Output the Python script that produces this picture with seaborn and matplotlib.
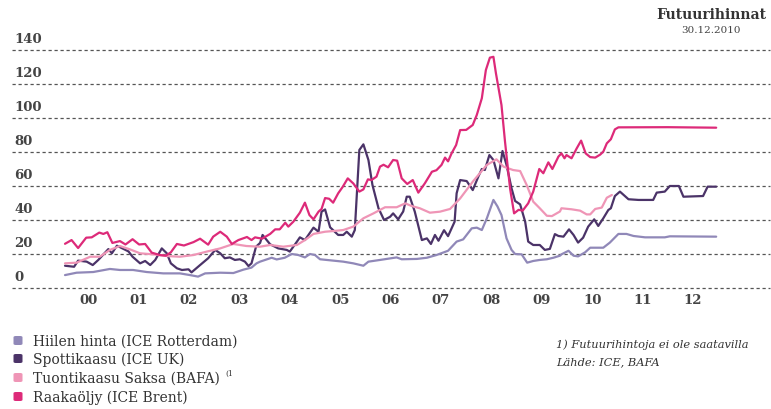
import numpy as np
import pandas as pd
import matplotlib
matplotlib.use("Agg")
import matplotlib.pyplot as plt
import matplotlib.transforms as mtransforms
from matplotlib.patches import FancyBboxPatch
import seaborn as sns

# ---------------- data ----------------
series_names = ["Hiilen hinta (ICE Rotterdam)", "Spottikaasu (ICE UK)",
                "Tuontikaasu Saksa (BAFA)", "Raakaöljy (ICE Brent)"]
series_colors = ["#9088B8", "#4B3368", "#EF95B6", "#DD2A79"]
year_labels = ["00", "01", "02", "03", "04", "05", "06", "07", "08", "09", "10", "11", "12"]
y_ticks = [0, 20, 40, 60, 80, 100, 120, 140]

coal_t = [2000.04, 2000.27, 2000.60, 2000.93, 2001.13, 2001.39, 2001.66, 2001.99, 2002.32, 2002.52,
          2002.68, 2002.82, 2003.12, 2003.38, 2003.58, 2003.74, 2003.84, 2003.91, 2004.14, 2004.24,
          2004.40, 2004.54, 2004.67, 2004.80, 2004.90, 2005.00, 2005.10, 2005.56, 2005.76, 2005.96,
          2006.06, 2006.29, 2006.62, 2006.72, 2007.02, 2007.22, 2007.41, 2007.64, 2007.81, 2007.94,
          2008.11, 2008.21, 2008.31, 2008.41, 2008.54, 2008.62, 2008.70, 2008.80, 2008.90, 2008.97,
          2009.10, 2009.21, 2009.33, 2009.46, 2009.60, 2009.73, 2009.86, 2009.89, 2010.03, 2010.13,
          2010.22, 2010.36, 2010.46, 2010.72, 2010.85, 2011.02, 2011.18, 2011.32, 2011.55, 2011.94,
          2012.04, 2012.96]
coal_v = [7.6, 9.0, 9.4, 11.2, 10.6, 10.6, 9.4, 8.6, 8.6, 7.6,
          6.7, 8.6, 9.0, 8.8, 10.8, 12.0, 14.5, 15.5, 17.8, 16.8,
          17.8, 20.0, 19.4, 18.0, 20.0, 19.4, 16.9, 15.5, 14.5, 13.1,
          15.5, 16.5, 18.0, 16.9, 17.1, 17.8, 19.4, 21.9, 27.3, 28.6,
          35.1, 35.5, 34.1, 41.0, 51.8, 48.0, 42.9, 29.2, 22.4, 20.0,
          19.8, 14.9, 15.9, 16.5, 16.9, 17.8, 19.0, 19.8, 21.9, 19.0,
          18.6, 21.0, 23.7, 23.7, 26.7, 31.8, 31.8, 30.6, 29.8, 29.8,
          30.4, 30.2]

spot_t = [2000.04, 2000.22, 2000.30, 2000.47, 2000.59, 2000.70, 2000.90, 2000.97, 2001.07, 2001.30,
          2001.38, 2001.53, 2001.63, 2001.73, 2001.83, 2001.96, 2002.06, 2002.14, 2002.26, 2002.36,
          2002.49, 2002.55, 2002.72, 2002.88, 2003.02, 2003.12, 2003.21, 2003.31, 2003.41, 2003.51,
          2003.61, 2003.68, 2003.74, 2003.83, 2003.91, 2003.96, 2004.11, 2004.27, 2004.44, 2004.50,
          2004.64, 2004.70, 2004.80, 2004.97, 2005.07, 2005.13, 2005.20, 2005.30, 2005.46, 2005.56,
          2005.63, 2005.73, 2005.79, 2005.88, 2005.96, 2006.06, 2006.14, 2006.26, 2006.37, 2006.49,
          2006.55, 2006.65, 2006.75, 2006.82, 2006.88, 2006.98, 2007.12, 2007.22, 2007.30, 2007.38,
          2007.45, 2007.56, 2007.64, 2007.77, 2007.81, 2007.88, 2008.01, 2008.13, 2008.24, 2008.31,
          2008.37, 2008.46, 2008.54, 2008.64, 2008.72, 2008.80, 2008.90, 2008.97, 2009.07, 2009.17,
          2009.23, 2009.33, 2009.46, 2009.56, 2009.66, 2009.76, 2009.83, 2009.93, 2010.04, 2010.13,
          2010.22, 2010.32, 2010.42, 2010.54, 2010.62, 2010.72, 2010.82, 2010.87, 2010.95, 2011.05,
          2011.22, 2011.42, 2011.71, 2011.78, 2011.94, 2012.04, 2012.22, 2012.31, 2012.70, 2012.79,
          2012.96]
spot_v = [13.1, 12.5, 16.1, 15.5, 13.5, 16.5, 22.9, 20.4, 24.9, 21.5,
          18.4, 14.5, 15.9, 13.5, 16.5, 23.3, 20.4, 14.5, 11.6, 10.6,
          11.0, 9.2, 13.5, 17.5, 22.4, 20.4, 17.5, 18.0, 16.5, 16.9,
          15.5, 12.9, 14.5, 24.3, 26.5, 31.2, 25.7, 23.3, 22.4, 21.4,
          27.2, 29.8, 28.2, 35.5, 33.1, 44.9, 46.2, 35.7, 31.2, 31.2,
          33.1, 30.2, 34.1, 81.2, 84.5, 75.3, 60.6, 46.9, 40.0, 41.9,
          43.9, 40.4, 45.0, 53.7, 53.7, 44.9, 28.2, 29.2, 25.9, 31.2,
          27.8, 34.0, 30.5, 39.0, 55.7, 63.5, 62.9, 57.6, 65.5, 70.0,
          69.4, 78.2, 75.3, 64.5, 80.6, 72.4, 58.6, 51.2, 49.2, 39.0,
          27.3, 25.3, 25.3, 22.4, 23.0, 31.7, 30.6, 30.2, 34.5, 31.2,
          26.7, 29.6, 36.1, 40.4, 36.5, 41.0, 45.9, 46.9, 54.1, 56.7,
          52.2, 51.8, 51.8, 56.1, 56.7, 60.0, 60.0, 53.7, 54.1, 59.6,
          59.6]

import_t = [2000.04, 2000.27, 2000.54, 2000.73, 2000.93, 2001.13, 2001.33, 2001.53, 2001.79, 2002.06,
            2002.32, 2002.59, 2002.85, 2003.12, 2003.38, 2003.64, 2003.91, 2004.11, 2004.37, 2004.64,
            2004.80, 2004.97, 2005.20, 2005.36, 2005.56, 2005.76, 2005.96, 2006.16, 2006.39, 2006.62,
            2006.79, 2006.92, 2007.08, 2007.28, 2007.48, 2007.68, 2007.88, 2008.14, 2008.41, 2008.60,
            2008.74, 2008.93, 2009.07, 2009.20, 2009.33, 2009.46, 2009.60, 2009.70, 2009.86, 2009.89,
            2010.09, 2010.26, 2010.39, 2010.46, 2010.56, 2010.69, 2010.79, 2010.89]
import_v = [14.5, 14.9, 18.4, 18.4, 22.4, 24.7, 22.7, 20.4, 19.8, 18.8,
            18.4, 19.4, 21.4, 23.3, 25.9, 24.7, 24.3, 25.3, 24.3, 25.3,
            28.2, 31.8, 33.1, 33.5, 34.1, 36.1, 41.0, 43.9, 47.5, 47.5,
            49.8, 48.2, 46.9, 44.3, 44.9, 46.5, 52.7, 62.9, 72.4, 75.7,
            71.4, 69.4, 68.8, 60.6, 50.8, 46.9, 42.5, 42.3, 45.0, 46.9,
            46.3, 45.5, 43.3, 43.3, 46.5, 47.3, 53.1, 54.7]

oil_t = [2000.04, 2000.17, 2000.30, 2000.46, 2000.57, 2000.72, 2000.80, 2000.88, 2000.98, 2001.13,
         2001.24, 2001.38, 2001.51, 2001.63, 2001.76, 2001.92, 2002.04, 2002.14, 2002.26, 2002.40,
         2002.59, 2002.72, 2002.88, 2002.98, 2003.12, 2003.25, 2003.35, 2003.48, 2003.65, 2003.74,
         2003.81, 2003.95, 2004.11, 2004.21, 2004.30, 2004.41, 2004.47, 2004.57, 2004.70, 2004.80,
         2004.89, 2004.97, 2005.07, 2005.13, 2005.20, 2005.28, 2005.36, 2005.46, 2005.55, 2005.65,
         2005.76, 2005.88, 2005.96, 2006.05, 2006.12, 2006.22, 2006.29, 2006.36, 2006.45, 2006.55,
         2006.63, 2006.72, 2006.83, 2006.94, 2007.05, 2007.18, 2007.32, 2007.41, 2007.51, 2007.58,
         2007.64, 2007.71, 2007.80, 2007.88, 2008.00, 2008.13, 2008.21, 2008.31, 2008.39, 2008.47,
         2008.54, 2008.59, 2008.70, 2008.77, 2008.87, 2008.95, 2009.04, 2009.12, 2009.23, 2009.33,
         2009.45, 2009.53, 2009.63, 2009.71, 2009.83, 2009.89, 2009.95, 2009.99, 2010.09, 2010.19,
         2010.28, 2010.37, 2010.46, 2010.56, 2010.66, 2010.72, 2010.79, 2010.87, 2010.95, 2011.02,
         2012.00, 2012.96]
oil_v = [26.0, 28.2, 23.5, 29.6, 29.8, 32.6, 31.8, 32.8, 26.5, 27.6,
         25.6, 28.7, 25.6, 25.9, 20.8, 19.4, 19.0, 21.0, 25.9, 25.0,
         27.0, 29.0, 25.5, 30.2, 33.1, 30.2, 25.9, 28.2, 30.0, 28.2,
         29.8, 29.0, 31.8, 34.5, 34.5, 38.4, 36.1, 39.0, 44.3, 50.2,
         42.9, 40.4, 44.9, 46.5, 52.9, 52.5, 50.2, 55.7, 59.5, 64.5,
         61.5, 56.7, 58.0, 63.9, 63.5, 65.5, 71.4, 72.5, 71.0, 75.3,
         74.9, 64.5, 61.2, 63.5, 56.1, 61.6, 68.4, 69.3, 72.4, 76.7,
         74.5, 79.2, 84.1, 92.9, 93.0, 95.9, 101.8, 111.6, 128.2, 135.5,
         136.0, 126.3, 107.6, 86.1, 58.6, 43.9, 46.0, 45.5, 49.8, 56.7,
         70.0, 67.5, 73.9, 70.0, 77.3, 79.2, 76.3, 78.2, 76.3, 82.0,
         86.7, 79.2, 77.0, 76.7, 78.5, 80.2, 85.1, 87.5, 93.3, 94.5,
         94.6, 94.3]

frames = []
for name, t, v in zip(series_names, [coal_t, spot_t, import_t, oil_t],
                      [coal_v, spot_v, import_v, oil_v]):
    frames.append(pd.DataFrame({"t": t, "v": v, "series": name}))
df = pd.concat(frames, ignore_index=True)

# ---------------- style ----------------
sns.set_theme(style="white")
plt.rcParams["font.family"] = ["DejaVu Serif"]

W, H = 771, 409
fig = plt.figure(figsize=(W / 100, H / 100), dpi=100)
fig.patch.set_facecolor("white")

x0_px, x1_px = 12, 770
y_top_px, y_bot_px = 50, 288
ax = fig.add_axes([x0_px / W, 1 - y_bot_px / H, (x1_px - x0_px) / W, (y_bot_px - y_top_px) / H])
px_per_year = 50.4
ax.set_xlim(2000.0 + (x0_px - 63) / px_per_year, 2000.0 + (x1_px - 63) / px_per_year)
ax.set_ylim(0, 140)
ax.set_facecolor("none")
for s in ax.spines.values():
    s.set_visible(False)

grid_color = "#555555"
for v in y_ticks:
    ax.axhline(v, color=grid_color, lw=0.9, ls=(0, (2.6, 2.2)), clip_on=False, zorder=0)

sns.lineplot(data=df, x="t", y="v", hue="series", hue_order=series_names,
             palette=series_colors, linewidth=1.6, legend=False, ax=ax,
             estimator=None, sort=False, zorder=3)
ax.set_xticks([])
ax.set_yticks([])
ax.set_xlabel("")
ax.set_ylabel("")

tick_color = "#444444"
ylab_tr = mtransforms.offset_copy(
    mtransforms.blended_transform_factory(fig.transFigure, ax.transData),
    fig=fig, x=0, y=7, units="dots")
for v in y_ticks:
    ax.text(14 / W, v, str(v), transform=ylab_tr, ha="left", va="baseline",
            fontsize=9.5, fontweight="bold", color=tick_color)

xlab_tr = mtransforms.blended_transform_factory(ax.transData, fig.transFigure)
for i, lab in enumerate(year_labels):
    ax.text(2000 + i + 0.5, 1 - 304 / H, lab, transform=xlab_tr, ha="center",
            va="baseline", fontsize=9.5, fontweight="bold", color=tick_color)

fig.text(711 / W, 1 - 19 / H, "Futuurihinnat", ha="center", va="baseline",
         fontsize=10, fontweight="bold", color="#333333")
fig.text(711 / W, 1 - 33 / H, "30.12.2010", ha="center", va="baseline",
         fontsize=7.5, color="#444444")

# legend
row_y = [340.5, 358.5, 377.5, 396.5]
legend_texts = []
for name, col, yc in zip(series_names, series_colors, row_y):
    sq = FancyBboxPatch((13.5 / W, 1 - (yc + 4.5) / H), 9 / W, 9 / H,
                        boxstyle="round,pad=0,rounding_size=0.003",
                        transform=fig.transFigure, facecolor=col, edgecolor="none")
    fig.patches.append(sq)
    legend_texts.append(fig.text(33 / W, 1 - (yc + 5.5) / H, name, ha="left", va="baseline",
                                 fontsize=10, color="#333333"))
fig.canvas.draw()
bb = legend_texts[2].get_window_extent()
fig.text((bb.x1 + 6) / W, 1 - 376 / H, "(1", ha="left", va="baseline", fontsize=5.5,
         color="#333333")

fig.text(556 / W, 1 - 348 / H, "1) Futuurihintoja ei ole saatavilla", ha="left",
         va="baseline", fontsize=8.2, style="italic", color="#333333")
fig.text(556 / W, 1 - 365 / H, "Lähde: ICE, BAFA", ha="left", va="baseline",
         fontsize=8.2, style="italic", color="#333333")

fig.savefig("out.png", dpi=100)
